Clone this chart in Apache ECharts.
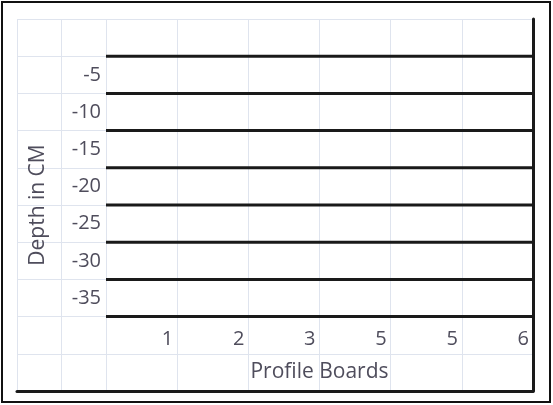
<!DOCTYPE html>
<html>
<head>
<meta charset="utf-8">
<script src="https://cdn.jsdelivr.net/npm/echarts@6/dist/echarts.min.js"></script>
<style>
  html, body { margin: 0; padding: 0; background: #fff; }
  #chart { width: 553px; height: 405px; }
</style>
</head>
<body>
<div id="chart"></div>
<script>
// profile boards along the bottom
const boards = ['1', '2', '3', '5', '5', '6'];
// depth rows (labels shown in the left column)
const rowLabels = ['', '-5', '-10', '-15', '-20', '-25', '-30', '-35', '', ''];
// depths where the thick profile lines are drawn
const depths = [0, -5, -10, -15, -20, -25, -30, -35];

const gridColor = '#dfe4ee';
const textColor = '#4f4d5c';
const font = '"Open Sans", sans-serif';

let myChart = echarts.init(document.getElementById('chart'));

let option = {
    backgroundColor: '#fff',
    animation: false,
    graphic: [{
        type: 'rect',
        shape: { x: 2, y: 2, width: 548, height: 400 },
        style: { fill: 'none', stroke: '#111', lineWidth: 2 }
    }],
    grid: [
        { left: 106, top: 19, right: 20, bottom: 14, outerBoundsMode: 'none' },
        { left: 17, top: 19, width: 89, bottom: 14, outerBoundsMode: 'none' }
    ],
    xAxis: [
        {
            gridIndex: 0,
            type: 'value',
            min: 0,
            max: boards.length,
            interval: 1,
            name: 'Profile Boards',
            nameLocation: 'middle',
            nameGap: -19,
            nameMoveOverlap: false,
            nameTextStyle: { color: textColor, fontFamily: font, fontSize: 21, verticalAlign: 'middle' },
            axisLine: { show: true, onZero: false, lineStyle: { color: '#1a1a1a', width: 3 } },
            axisTick: { show: false },
            axisLabel: {
                inside: true,
                margin: 52,
                align: 'right',
                verticalAlign: 'middle',
                padding: [0, 4, 0, 0],
                color: textColor,
                fontFamily: font,
                fontSize: 20,
                formatter: v => (v >= 1 ? boards[v - 1] : '')
            },
            splitLine: { show: true, lineStyle: { color: gridColor, width: 1 } }
        },
        {
            gridIndex: 1,
            type: 'value',
            min: 0,
            max: 2,
            interval: 1,
            axisLine: { show: true, onZero: false, lineStyle: { color: '#1a1a1a', width: 3 } },
            axisTick: { show: false },
            axisLabel: { show: false },
            splitLine: { show: true, lineStyle: { color: gridColor, width: 1 } }
        }
    ],
    yAxis: [
        {
            gridIndex: 0,
            type: 'value',
            position: 'right',
            min: -45,
            max: 5,
            interval: 5,
            axisLine: { show: true, onZero: false, lineStyle: { color: '#1a1a1a', width: 3 } },
            axisTick: { show: false },
            axisLabel: { show: false },
            splitLine: { show: true, lineStyle: { color: gridColor, width: 1 } }
        },
        {
            gridIndex: 1,
            type: 'category',
            position: 'right',
            inverse: true,
            data: rowLabels,
            axisLine: { show: false },
            axisTick: { show: false },
            axisLabel: {
                inside: true,
                margin: 5,
                color: textColor,
                fontFamily: font,
                fontSize: 20,
                verticalAlign: 'middle',
                padding: [6, 0, 0, 0]
            },
            splitLine: { show: true, lineStyle: { color: gridColor, width: 1 } }
        },
        {
            gridIndex: 1,
            type: 'value',
            position: 'left',
            min: 0,
            max: 1,
            name: 'Depth in CM',
            nameLocation: 'middle',
            nameRotate: 90,
            nameGap: -21,
            nameMoveOverlap: false,
            nameTextStyle: { color: textColor, fontFamily: font, fontSize: 21, verticalAlign: 'middle' },
            axisLine: { show: false, onZero: false },
            axisTick: { show: false },
            axisLabel: { show: false },
            splitLine: { show: false }
        }
    ],
    series: depths.map(d => ({
        type: 'line',
        xAxisIndex: 0,
        yAxisIndex: 0,
        symbol: 'none',
        data: [[0, d], [boards.length, d]],
        lineStyle: { color: '#1a1a1a', width: 3 }
    }))
};

option && myChart.setOption(option);
</script>
</body>
</html>
